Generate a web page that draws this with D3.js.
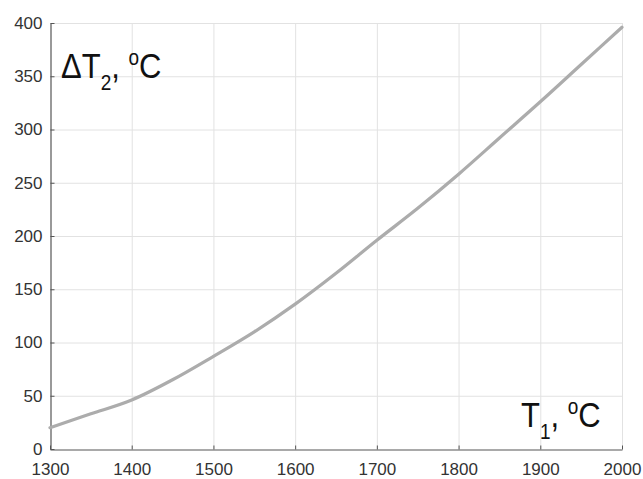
<!DOCTYPE html>
<html>
<head>
<meta charset="utf-8">
<script src="https://cdn.jsdelivr.net/npm/d3@7/dist/d3.min.js"></script>
<style>
  html, body { margin: 0; padding: 0; background: #fff; }
  svg { display: block; }
  text { font-family: "Liberation Sans", Arial, Helvetica, sans-serif; }
</style>
</head>
<body>
<svg id="chart" width="643" height="479"></svg>
<script>
// Temperature T1 (°C) and the resulting temperature difference ΔT2 (°C)
const T1 = [1300, 1350, 1400, 1450, 1500, 1550, 1600, 1650, 1700, 1750, 1800, 1850, 1900, 1950, 2000];
const dT2 = [20, 33, 46, 65, 87, 110, 136, 165, 196, 226, 258, 292, 326, 361, 396];

const xTicks = [1300, 1400, 1500, 1600, 1700, 1800, 1900, 2000];
const yTicks = [0, 50, 100, 150, 200, 250, 300, 350, 400];

const svg = d3.select("#chart");
const margin = { left: 50, right: 21, top: 23, bottom: 30 };
const W = 643, H = 479;

const x = d3.scaleLinear().domain([1300, 2000]).range([margin.left, W - margin.right]);
const y = d3.scaleLinear().domain([0, 400]).range([H - margin.bottom, margin.top]);

// grid
const grid = svg.append("g").attr("stroke", "#e2e2e2").attr("stroke-width", 1);
grid.selectAll("line.gx").data(xTicks.slice(1)).join("line")
  .attr("x1", d => x(d) + 0.5).attr("x2", d => x(d) + 0.5)
  .attr("y1", y(0)).attr("y2", y(400));
grid.selectAll("line.gy").data(yTicks.slice(1)).join("line")
  .attr("y1", d => y(d) + 0.5).attr("y2", d => y(d) + 0.5)
  .attr("x1", x(1300)).attr("x2", x(2000));

// axes with inward ticks
const xAxis = d3.axisBottom(x).tickValues(xTicks).tickSize(-4).tickPadding(17).tickSizeOuter(0).tickFormat(d3.format("d"));
const yAxis = d3.axisLeft(y).tickValues(yTicks).tickSize(-4).tickPadding(8).tickSizeOuter(0);

const gx = svg.append("g").attr("transform", `translate(0,${y(0) + 0.5})`).call(xAxis);
const gy = svg.append("g").attr("transform", `translate(${x(1300) + 0.5},0)`).call(yAxis);

[gx, gy].forEach(g => {
  g.select(".domain").attr("stroke", "#555").attr("stroke-width", 1.2);
  g.selectAll(".tick line").attr("stroke", "#555");
  g.selectAll(".tick text").attr("fill", "#333").attr("font-size", 17)
    .attr("font-family", "'Liberation Sans', Arial, sans-serif");
});
gy.selectAll(".tick text").attr("dy", "0.32em");
gx.selectAll(".tick text").attr("dy", "0.5em");

// curve
const line = d3.line().x((d, i) => x(T1[i])).y(d => y(d)).curve(d3.curveMonotoneX);
svg.append("path").datum(dT2)
  .attr("d", line)
  .attr("fill", "none")
  .attr("stroke", "#acacac")
  .attr("stroke-width", 3.2)
  .attr("stroke-linecap", "round");

// axis titles with subscript and degree mark
function title(px, py, main, sub) {
  const t = svg.append("g").attr("transform", `translate(${px},${py}) scale(1,1.12)`)
    .append("text").attr("font-size", 31).attr("fill", "#111");
  t.append("tspan").text(main);
  t.append("tspan").attr("font-size", 19).attr("dy", 11).text(sub);
  t.append("tspan").attr("dy", -11).text(", ");
  t.append("tspan").attr("font-size", 19).attr("dy", -12).text("o");
  t.append("tspan").attr("dy", 12).text("C");
}
title(61, 78, "ΔT", "2");
title(521, 427, "T", "1");
</script>
</body>
</html>
